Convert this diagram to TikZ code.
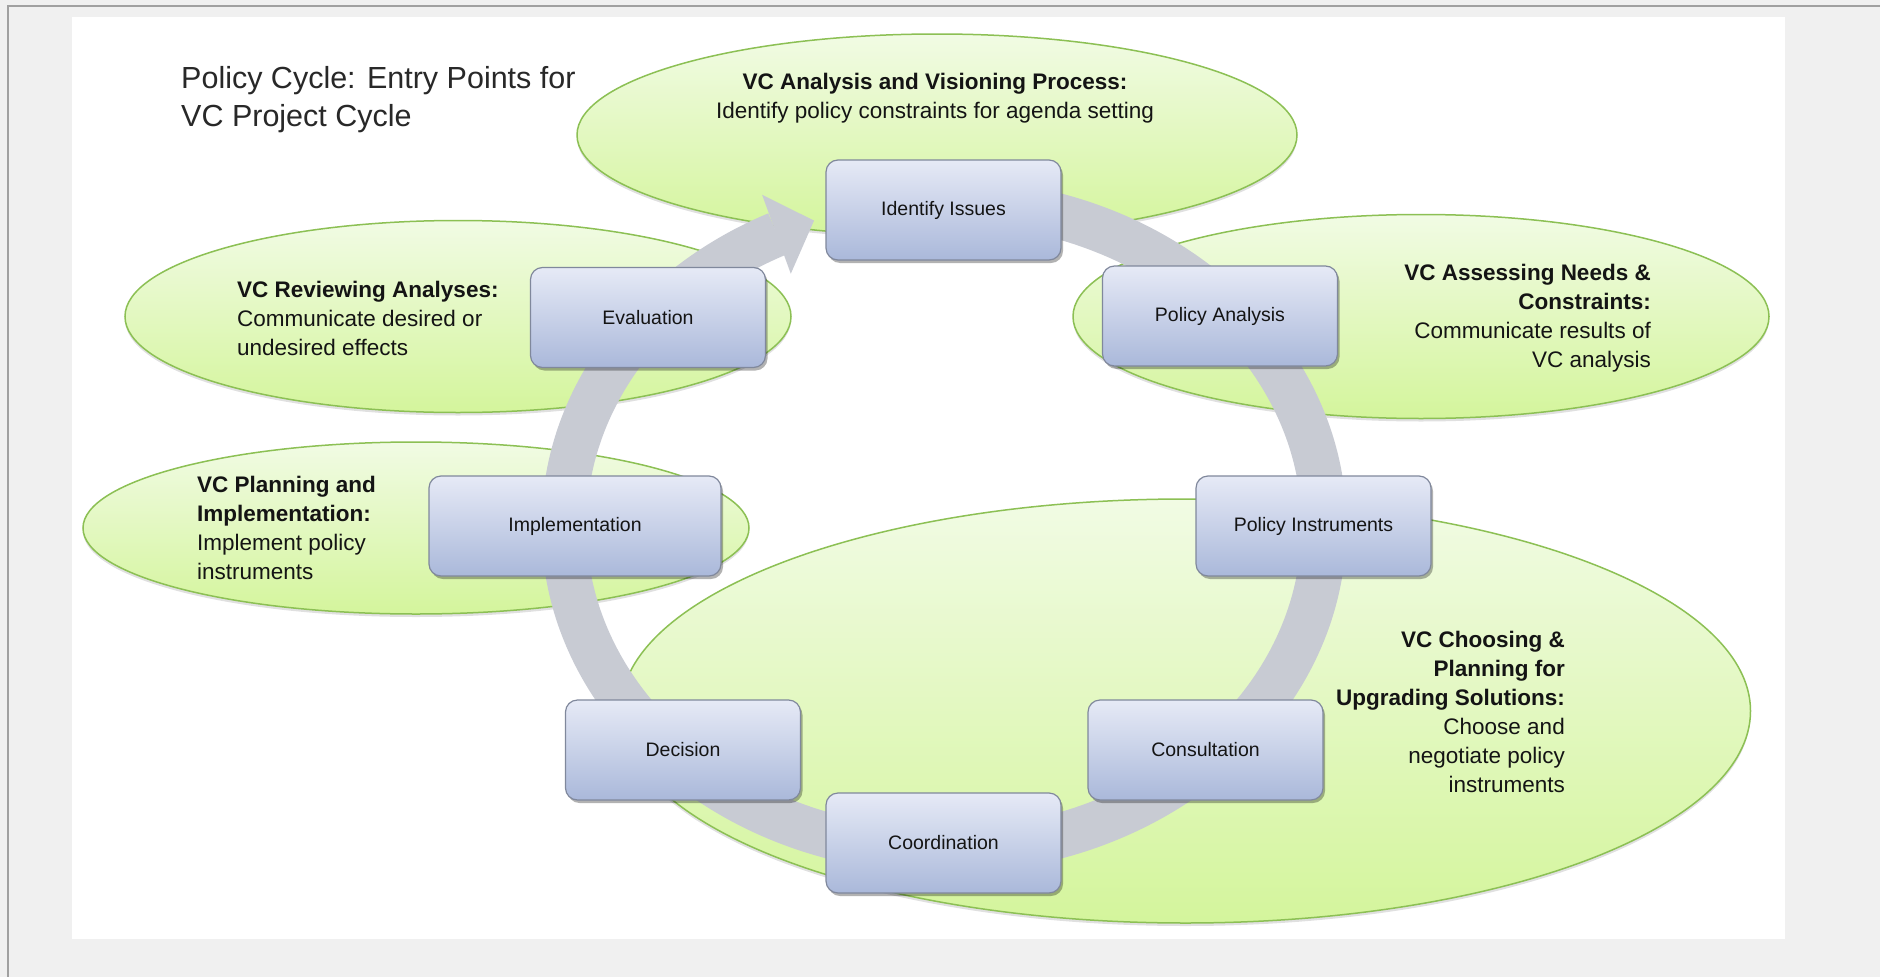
\documentclass[tikz,border=0pt]{standalone}
\usepackage{fontspec}
\setmainfont{Liberation Sans}
\usetikzlibrary{arrows.meta,shadows,bending,shapes.geometric}
\definecolor{bggray}{RGB}{240,240,240}
\definecolor{framegray}{RGB}{160,160,160}
\definecolor{ringgray}{RGB}{200,203,211}
\definecolor{boxtop}{RGB}{230,234,246}
\definecolor{boxbot}{RGB}{170,184,218}
\definecolor{boxline}{RGB}{128,136,156}
\definecolor{elltop}{RGB}{241,251,228}
\definecolor{ellbot}{RGB}{212,245,156}
\definecolor{ellline}{RGB}{140,192,84}
\definecolor{txt}{RGB}{20,20,20}
\definecolor{titlecol}{RGB}{40,40,40}
\tikzset{
  stagebox/.style={draw=boxline, line width=1.2pt, rounded corners=12pt,
    top color=boxtop, bottom color=boxbot, minimum width=235pt, minimum height=100pt,
    inner sep=0pt, font=\fontsize{19.5}{23}\selectfont, text=txt,
    drop shadow={shadow xshift=2pt, shadow yshift=-3pt, opacity=0.3, fill=black}},
  entryell/.style={ellipse, draw=ellline, line width=1.5pt, top color=elltop, bottom color=ellbot,
    inner sep=0pt, drop shadow={shadow xshift=0pt, shadow yshift=-3pt, opacity=0.12, fill=black}},
  elltext/.style={inner sep=0pt, text=txt, font=\fontsize{22.5}{29}\selectfont},
  ringarrow/.style={draw=ringgray, line width=45pt,
    -{Triangle[width=84pt,length=40pt,line width=0pt]}}
}
\begin{document}
\begin{tikzpicture}[x=1pt,y=-1pt]
\useasboundingbox (0,0) rectangle (1880,977);
\fill[bggray] (0,0) rectangle (1880,977);
\fill[white] (72,17) rectangle (1785,939);
\draw[framegray, line width=2pt] (7.5,977) -- (7.5,5.5) -- (1880,5.5);

% entry-point ellipses
\node[entryell, minimum width=720pt, minimum height=202pt] (e1) at (937,135) {};
\node[entryell, minimum width=666pt, minimum height=192pt] (e2) at (458,316.5) {};
\node[entryell, minimum width=696pt, minimum height=204pt] (e3) at (1421,316.5) {};
\node[entryell, minimum width=666pt, minimum height=172pt] (e4) at (416,528) {};
\node[entryell, minimum width=1130pt, minimum height=424pt] (e5) at (1185.5,711) {};

% cycle ring
\coordinate (ringc) at (944,526);
\draw[ringarrow] (ringc) ++(-85:380 and 325) arc[start angle=-85, end angle=250, x radius=380, y radius=325];

% stages
\node[stagebox] (identify) at (943.5,210) {Identify Issues};
\node[stagebox] (panalysis) at (1220,316) {Policy Analysis};
\node[stagebox] (pinstr) at (1313.5,526) {Policy Instruments};
\node[stagebox] (consult) at (1205.5,750) {Consultation};
\node[stagebox] (coord) at (943.5,843) {Coordination};
\node[stagebox] (decision) at (683,750) {Decision};
\node[stagebox, minimum width=292pt] (impl) at (575,526) {Implementation};
\node[stagebox] (eval) at (648,317.5) {Evaluation};

% texts
\node[inner sep=0pt, anchor=west, align=left, text=titlecol, font=\fontsize{30.5}{38}\selectfont] (title) at (181,100)
  {Policy Cycle: Entry Points for\\VC Project Cycle};
\node[elltext, align=center] (t1) at (935,98)
  {\textbf{VC Analysis and Visioning Process:}\\Identify policy constraints for agenda setting};
\node[elltext, align=left, anchor=west] (t2) at (237,318)
  {\textbf{VC Reviewing Analyses:}\\Communicate desired or\\undesired effects};
\node[elltext, align=right, anchor=east] (t3) at (1651,318)
  {\textbf{VC Assessing Needs \&}\\\textbf{Constraints:}\\Communicate results of\\VC analysis};
\node[elltext, align=left, anchor=west] (t4) at (197,528)
  {\textbf{VC Planning and}\\\textbf{Implementation:}\\Implement policy\\instruments};
\node[elltext, align=right, anchor=east] (t5) at (1565,711.5)
  {\textbf{VC Choosing \&}\\\textbf{Planning for}\\\textbf{Upgrading Solutions:}\\Choose and\\negotiate policy\\instruments};
\end{tikzpicture}
\end{document}
